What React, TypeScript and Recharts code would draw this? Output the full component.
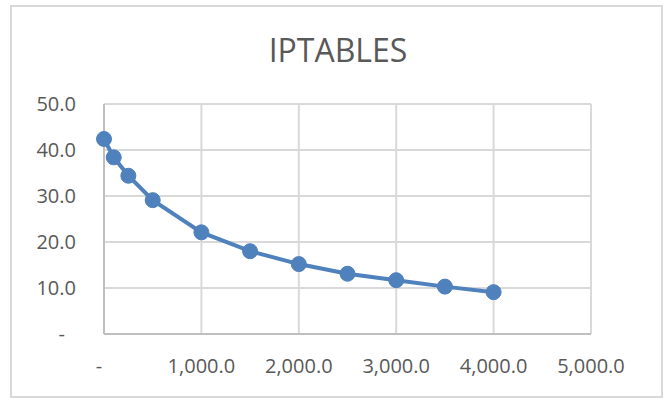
import React from "react";
import { LineChart, Line, XAxis, YAxis, CartesianGrid } from "recharts";

const chartTitle = "IPTABLES";
const xValues = [0, 100, 250, 500, 1000, 1500, 2000, 2500, 3000, 3500, 4000];
const yValues = [42.4, 38.4, 34.4, 29.1, 22.1, 18.0, 15.2, 13.1, 11.7, 10.3, 9.1];
const xTicks = [0, 1000, 2000, 3000, 4000, 5000];
const xTickLabels = ["-", "1,000.0", "2,000.0", "3,000.0", "4,000.0", "5,000.0"];
const yTicks = [0, 10, 20, 30, 40, 50];
const yTickLabels = ["-", "10.0", "20.0", "30.0", "40.0", "50.0"];

const data = xValues.map((x, i) => ({ x, y: yValues[i] }));

const FONT = "'Open Sans', sans-serif";
const TEXT = "#595959";
const BLUE = "#4F81BD";

const XTick = (props: any) => {
  const { x, y, payload } = props;
  const idx = xTicks.indexOf(payload.value);
  const label = xTickLabels[idx] ?? "";
  const dx = label === "-" ? -5 : 0;
  return (
    <text x={x + dx} y={y} dy="0.71em" textAnchor="middle" fill={TEXT} fontSize={20} fontFamily={FONT}>
      {label}
    </text>
  );
};

const YTick = (props: any) => {
  const { x, y, payload } = props;
  const idx = yTicks.indexOf(payload.value);
  const label = yTickLabels[idx] ?? "";
  const dx = label === "-" ? -11 : 0;
  return (
    <text x={x + dx} y={y} dy="0.355em" textAnchor="end" fill={TEXT} fontSize={20} fontFamily={FONT}>
      {label}
    </text>
  );
};

export default function App() {
  return (
    <div style={{ position: "absolute", left: 0, top: 0, width: 669, height: 398, background: "#fff" }}>
      <svg width={669} height={398} style={{ position: "absolute", left: 0, top: 0 }}>
        <rect x={11} y={6} width={651} height={391} fill="#fff" stroke="#d9d9d9" strokeWidth={2} />
        <text x={338} y={62} textAnchor="middle" fill={TEXT} fontSize={32} fontFamily={FONT}>
          {chartTitle}
        </text>
      </svg>
      <div style={{ position: "absolute", left: 0, top: 0 }}>
        <LineChart width={669} height={398} data={data} margin={{ top: 104, right: 78, bottom: 0, left: 0 }}>
          <CartesianGrid stroke="#d9d9d9" strokeWidth={2} horizontalValues={yTicks} verticalValues={xTicks} />
          <XAxis
            dataKey="x"
            type="number"
            domain={[0, 5000]}
            ticks={xTicks}
            height={64}
            tickSize={0}
            tickMargin={25}
            axisLine={{ stroke: "#bfbfbf", strokeWidth: 2 }}
            tickLine={false}
            tick={<XTick />}
            interval={0}
          />
          <YAxis
            type="number"
            domain={[0, 50]}
            ticks={yTicks}
            width={104}
            tickSize={0}
            tickMargin={28}
            axisLine={{ stroke: "#bfbfbf", strokeWidth: 2 }}
            tickLine={false}
            tick={<YTick />}
            interval={0}
          />
          <Line
            dataKey="y"
            type="linear"
            stroke={BLUE}
            strokeWidth={4}
            dot={{ r: 7.5, fill: BLUE, stroke: BLUE, strokeWidth: 1 }}
            activeDot={false}
            isAnimationActive={false}
          />
        </LineChart>
      </div>
    </div>
  );
}
